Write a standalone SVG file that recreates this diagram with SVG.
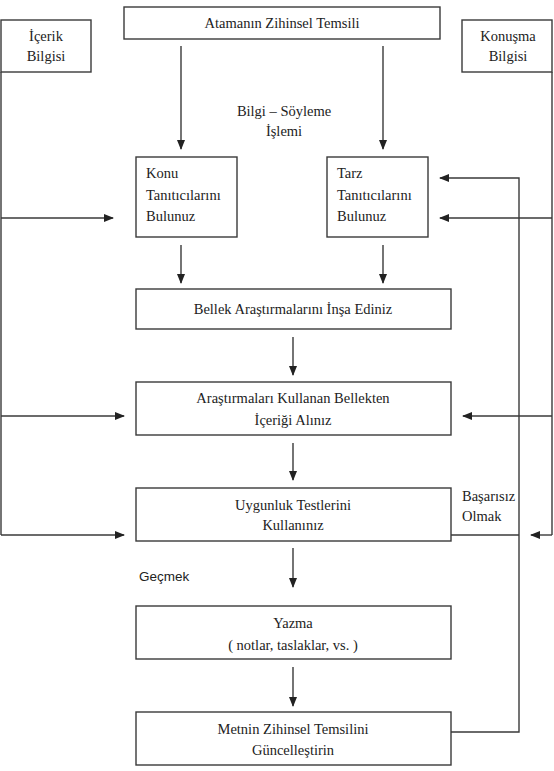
<svg xmlns="http://www.w3.org/2000/svg" width="554" height="771" viewBox="0 0 554 771">
<style>
.box{fill:#fff;stroke:#3a3a3a;stroke-width:1.4}
.t{font-family:"Liberation Serif","Times New Roman",serif;font-size:14.5px;fill:#222}
.s{font-family:"Liberation Sans",Arial,sans-serif;font-size:13.5px;fill:#222}
.c{text-anchor:middle}
.ln{fill:none;stroke:#3a3a3a;stroke-width:1.4}
</style>
<defs>
<marker id="ah" markerUnits="userSpaceOnUse" markerWidth="10" markerHeight="8" refX="9" refY="4" orient="auto">
<path d="M0,0 L10,4 L0,8 z" fill="#222"/>
</marker>
</defs>
<rect width="554" height="771" fill="#fff"/>
<g id="connectors">
<path class="ln" d="M181,46 V149" marker-end="url(#ah)"/>
<path class="ln" d="M383,46 V149" marker-end="url(#ah)"/>
<path class="ln" d="M181,245 V283" marker-end="url(#ah)"/>
<path class="ln" d="M383,245 V283" marker-end="url(#ah)"/>
<path class="ln" d="M293,337 V375" marker-end="url(#ah)"/>
<path class="ln" d="M293,443 V480" marker-end="url(#ah)"/>
<path class="ln" d="M293,548 V587" marker-end="url(#ah)"/>
<path class="ln" d="M293,667 V706" marker-end="url(#ah)"/>
<path class="ln" d="M1,72 V535"/>
<path class="ln" d="M1,218 H113" marker-end="url(#ah)"/>
<path class="ln" d="M1,416 H124" marker-end="url(#ah)"/>
<path class="ln" d="M1,535 H124" marker-end="url(#ah)"/>
<path class="ln" d="M552,72 V535"/>
<path class="ln" d="M552,218 H440" marker-end="url(#ah)"/>
<path class="ln" d="M552,416 H463" marker-end="url(#ah)"/>
<path class="ln" d="M552,535 H531" marker-end="url(#ah)"/>
<path class="ln" d="M451,732 H519 V178 H440" marker-end="url(#ah)"/>
<path class="ln" d="M451,535 H519"/>
<text class="t c" x="284" y="116">Bilgi – Söyleme</text>
<text class="t c" x="284" y="136">İşlemi</text>
<text class="t" x="462" y="501">Başarısız</text>
<text class="t" x="462" y="521">Olmak</text>
<text class="s" x="139" y="581">Geçmek</text>
</g>
<g id="atamanin">
<rect class="box" x="124" y="7" width="316" height="32"/>
<text class="t c" x="282" y="28">Atamanın Zihinsel Temsili</text>
</g>
<g id="icerik">
<rect class="box" x="1" y="20" width="90" height="52"/>
<text class="t c" x="46" y="41">İçerik</text>
<text class="t c" x="46" y="61">Bilgisi</text>
</g>
<g id="konusma">
<rect class="box" x="462" y="20" width="90" height="52"/>
<text class="t c" x="508" y="41">Konuşma</text>
<text class="t c" x="508" y="61">Bilgisi</text>
</g>
<g id="konu">
<rect class="box" x="136" y="157" width="101" height="80"/>
<text class="t" x="146" y="178">Konu</text>
<text class="t" x="146" y="200">Tanıtıcılarını</text>
<text class="t" x="146" y="221">Bulunuz</text>
</g>
<g id="tarz">
<rect class="box" x="327" y="157" width="101" height="80"/>
<text class="t" x="337" y="178">Tarz</text>
<text class="t" x="337" y="200">Tanıtıcılarını</text>
<text class="t" x="337" y="221">Bulunuz</text>
</g>
<g id="bellek">
<rect class="box" x="136" y="289" width="315" height="40"/>
<text class="t c" x="293" y="314">Bellek Araştırmalarını İnşa Ediniz</text>
</g>
<g id="arastirmalar">
<rect class="box" x="136" y="382" width="315" height="53"/>
<text class="t c" x="293" y="403">Araştırmaları Kullanan Bellekten</text>
<text class="t c" x="293" y="425">İçeriği Alınız</text>
</g>
<g id="uygunluk">
<rect class="box" x="136" y="488" width="315" height="53"/>
<text class="t c" x="293" y="510">Uygunluk Testlerini</text>
<text class="t c" x="293" y="530">Kullanınız</text>
</g>
<g id="yazma">
<rect class="box" x="136" y="606" width="315" height="53"/>
<text class="t c" x="293" y="628">Yazma</text>
<text class="t c" x="293" y="650">( notlar, taslaklar, vs. )</text>
</g>
<g id="metnin">
<rect class="box" x="136" y="712" width="315" height="53"/>
<text class="t c" x="293" y="734">Metnin Zihinsel Temsilini</text>
<text class="t c" x="293" y="755">Güncelleştirin</text>
</g>
</svg>
